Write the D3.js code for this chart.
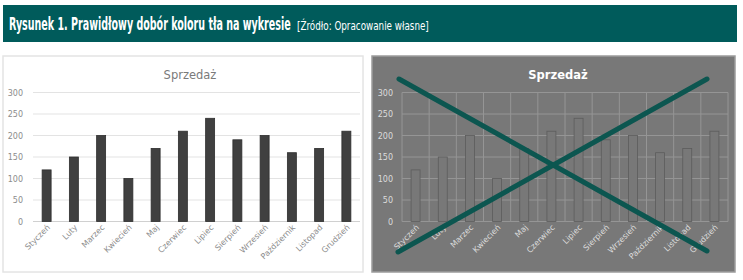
<!DOCTYPE html>
<meta charset="utf-8">
<head>
    <script src="https://d3js.org/d3.v7.min.js"></script>
    <style>
        body { margin: 0; background: #fff; }
        svg text { font-family: "DejaVu Sans", sans-serif; }
    </style>
</head>
<body>
<div class="viz"></div>
<script>
    var width = 743,
        height = 280;

    // chart data
    var months = ["Styczeń", "Luty", "Marzec", "Kwiecień", "Maj", "Czerwiec", "Lipiec",
        "Sierpień", "Wrzesień", "Październik", "Listopad", "Grudzień"];
    var sales = [120, 150, 200, 100, 170, 210, 240, 190, 200, 160, 170, 210];
    var yTicks = [0, 50, 100, 150, 200, 250, 300];

    var svg = d3.select("div.viz").append("svg")
        .attr("width", width)
        .attr("height", height);

    // header bar
    svg.append("rect")
        .attr("x", 3).attr("y", 5)
        .attr("width", 734).attr("height", 37)
        .attr("fill", "#005b5b");

    // condensed look: squeeze each text horizontally to the width seen in the picture
    function squeezed(x, target, size, weight, str) {
        var g = svg.append("g");
        var t = g.append("text")
            .attr("x", 0).attr("y", 0)
            .attr("fill", "#fff")
            .style("font-size", size)
            .style("font-weight", weight)
            .text(str);
        var k = target / t.node().getComputedTextLength();
        g.attr("transform", "translate(" + x + ",30) scale(" + k + ",1)");
    }
    squeezed(9, 282, "17px", "bold", "Rysunek 1. Prawidłowy dobór koloru tła na wykresie");
    squeezed(297, 132, "12px", "normal", "[Źródło: Opracowanie własne]");

    function drawChart(opts) {
        var g = svg.append("g");

        g.append("rect")
            .attr("x", opts.x0).attr("y", 56)
            .attr("width", opts.w).attr("height", 216)
            .attr("fill", opts.bg)
            .attr("stroke", opts.border)
            .attr("stroke-width", 1.5);

        var x = d3.scaleBand()
            .domain(months)
            .range([opts.plotL, opts.plotR])
            .paddingInner(0.67)
            .paddingOuter(0.335);

        var y = d3.scaleLinear()
            .domain([0, 300])
            .range([221.5, 92.5]);

        // horizontal grid
        g.selectAll("line.h").data(yTicks).enter().append("line")
            .attr("x1", opts.plotL).attr("x2", opts.plotR)
            .attr("y1", d => y(d)).attr("y2", d => y(d))
            .attr("stroke", d => d === 0 ? opts.axis : opts.grid)
            .attr("stroke-width", 1);

        // vertical grid (dark version only)
        if (opts.vgrid) {
            var step = x.step();
            var bounds = d3.range(months.length + 1).map(i => opts.plotL + i * step);
            g.selectAll("line.v").data(bounds).enter().append("line")
                .attr("x1", d => d).attr("x2", d => d)
                .attr("y1", y(300)).attr("y2", y(0))
                .attr("stroke", opts.grid)
                .attr("stroke-width", 1);
        }

        // y labels
        g.selectAll("text.yl").data(yTicks).enter().append("text")
            .attr("x", opts.labelR)
            .attr("y", d => y(d) + 3)
            .attr("text-anchor", "end")
            .attr("fill", opts.tickColor)
            .style("font-size", "8px")
            .text(d => d);

        // bars
        g.selectAll("rect.bar").data(sales).enter().append("rect")
            .attr("x", (d, i) => x(months[i]))
            .attr("y", d => y(d))
            .attr("width", x.bandwidth())
            .attr("height", d => y(0) - y(d))
            .attr("fill", opts.barFill)
            .attr("stroke", opts.barStroke)
            .attr("stroke-width", 0.8);

        // category labels
        g.selectAll("text.xl").data(months).enter().append("text")
            .attr("transform", d => "translate(" + (x(d) + x.bandwidth() / 2 + 4) + "," + 228 + ") rotate(-45)")
            .attr("text-anchor", "end")
            .attr("fill", opts.tickColor)
            .style("font-size", "8px")
            .text(d => d);

        // title
        g.append("text")
            .attr("x", opts.titleX).attr("y", 79)
            .attr("text-anchor", "middle")
            .attr("fill", opts.titleColor)
            .style("font-size", "11.5px")
            .style("font-weight", opts.titleWeight)
            .text("Sprzedaż");
    }

    drawChart({
        x0: 3, w: 360, bg: "#ffffff", border: "#e4e4e4",
        plotL: 33, plotR: 360, labelR: 23,
        grid: "#e3e3e3", axis: "#d0d0d0", vgrid: false,
        tickColor: "#8c8c8c", barFill: "#404040", barStroke: "#2e2e2e",
        titleX: 190, titleColor: "#7a7a7a", titleWeight: "normal"
    });

    drawChart({
        x0: 372, w: 363, bg: "#787878", border: "#9c9c9c",
        plotL: 402, plotR: 728, labelR: 393,
        grid: "#959595", axis: "#959595", vgrid: true,
        tickColor: "#dcdcdc", barFill: "#787878", barStroke: "#5c5c5c",
        titleX: 558, titleColor: "#ffffff", titleWeight: "bold"
    });

    // crossing-out lines
    var cross = [[[399, 79], [707, 251]], [[398, 252], [707, 79]]];
    svg.selectAll("line.cross").data(cross).enter().append("line")
        .attr("x1", d => d[0][0]).attr("y1", d => d[0][1])
        .attr("x2", d => d[1][0]).attr("y2", d => d[1][1])
        .attr("stroke", "#0c5650")
        .attr("stroke-width", 5)
        .attr("stroke-linecap", "round");
</script>
</body>
